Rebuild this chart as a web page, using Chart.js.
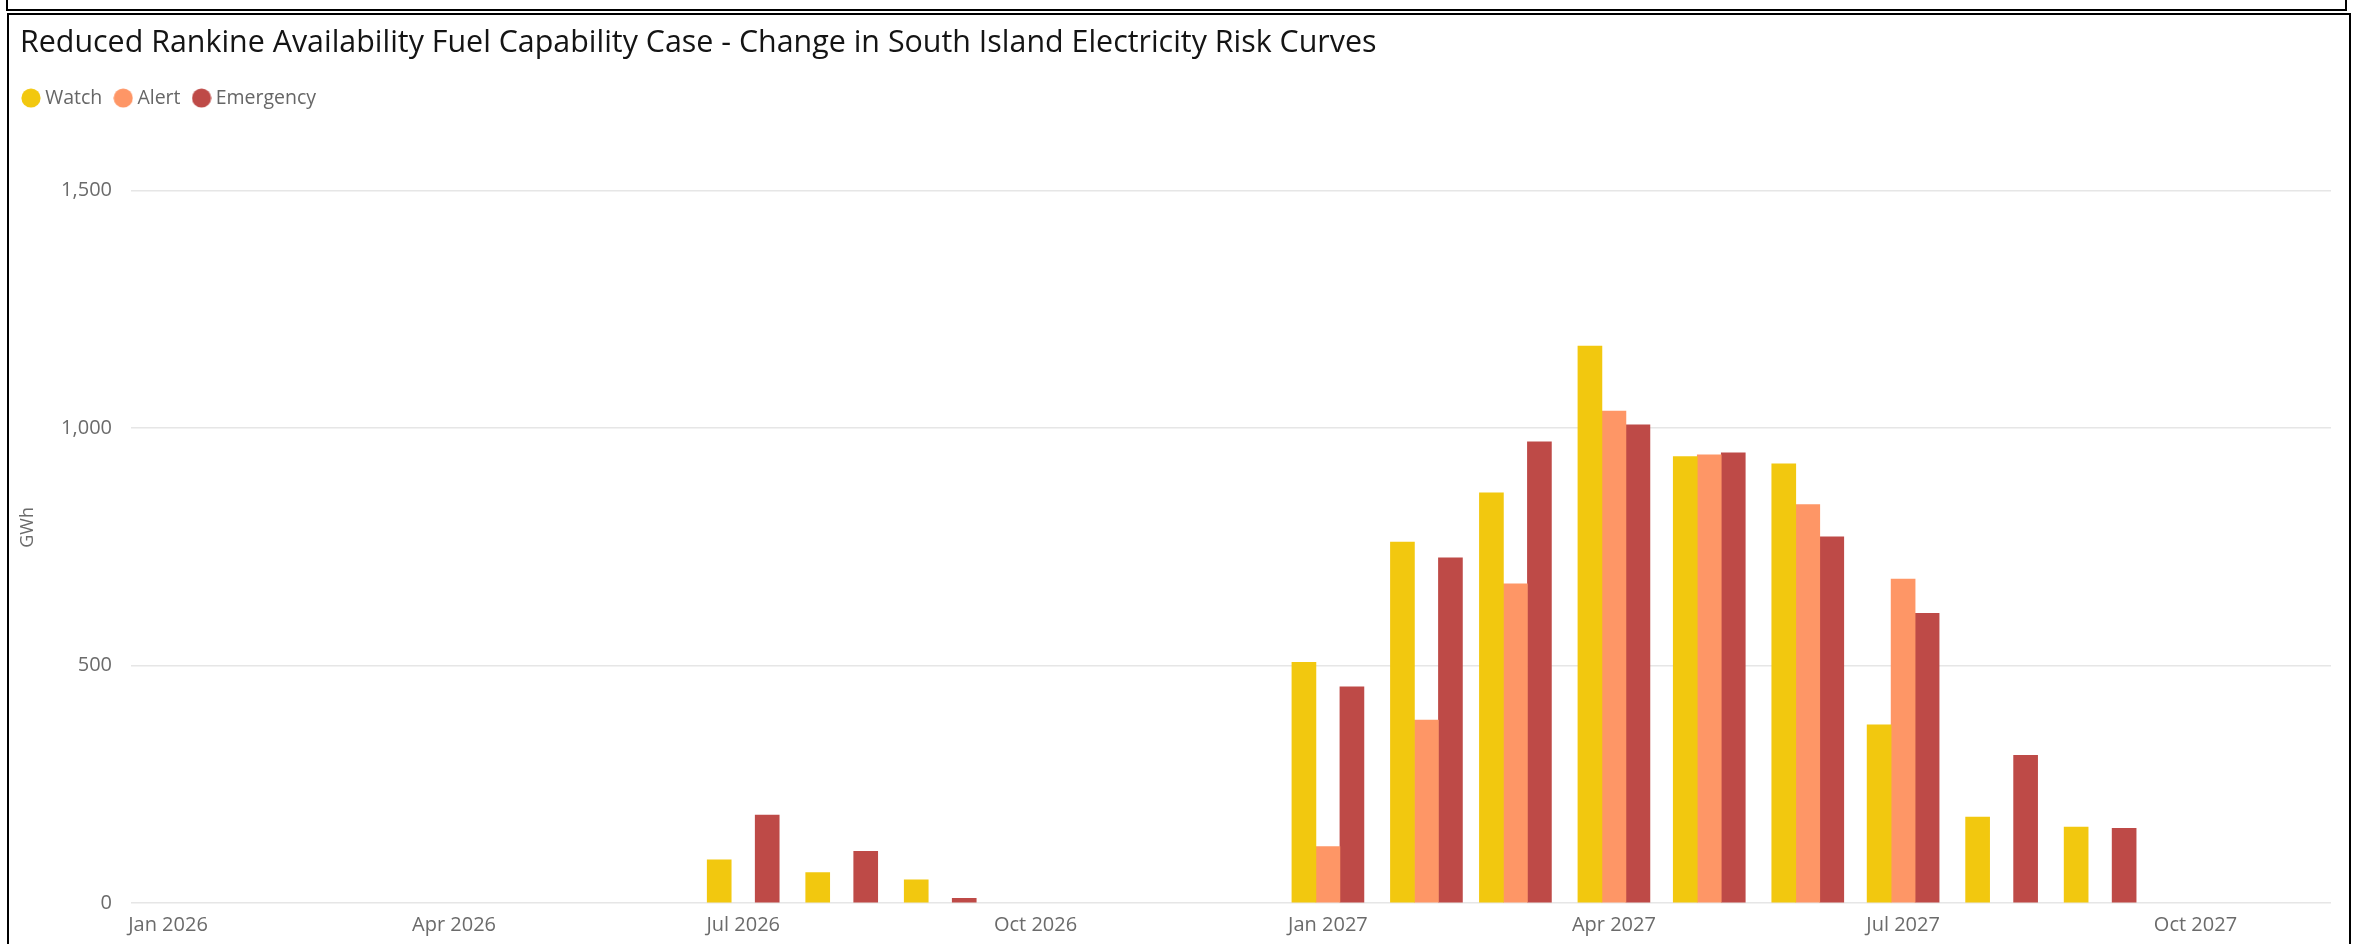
<!DOCTYPE html>
<html>
<head>
<meta charset="utf-8">
<title>South Island Electricity Risk Curves</title>
<script src="https://cdn.jsdelivr.net/npm/chart.js@4.4.1/dist/chart.umd.min.js"></script>
<style>
  html, body { margin: 0; padding: 0; background: #ffffff; overflow: hidden; }
  #wrap { position: relative; width: 2354px; height: 944px; overflow: hidden; }
  #riskChart { position: absolute; left: 0; top: 0; }
  .frame { position: absolute; box-sizing: border-box; border: 2px solid #000; pointer-events: none; }
  #prevPanel { left: 6px; top: -12px; width: 2341px; height: 23px; }
  #panel { left: 7px; top: 13px; width: 2344px; height: 980px; }
</style>
</head>
<body>
<div id="wrap">
  <canvas id="riskChart" width="2354" height="944"></canvas>
  <div class="frame" id="prevPanel"></div>
  <div class="frame" id="panel"></div>
</div>
<script>
// Monthly change in risk-curve energy (GWh), Jan 2026 – Nov 2027
const months = [
  '2026-01', '2026-02', '2026-03', '2026-04', '2026-05', '2026-06',
  '2026-07', '2026-08', '2026-09', '2026-10', '2026-11', '2026-12',
  '2027-01', '2027-02', '2027-03', '2027-04', '2027-05', '2027-06',
  '2027-07', '2027-08', '2027-09', '2027-10', '2027-11'
];
const watch = [
  null, null, null, null, null, null, 91, 64, 49, null, null, null,
  507, 760, 864, 1173, 940, 925, 375, 181, 160, null, null
];
const alertLevel = [
  null, null, null, null, null, null, null, null, null, null, null, null,
  119, 385, 672, 1036, 944, 839, 682, null, null, null, null
];
const emergency = [
  null, null, null, null, null, null, 185, 109, 10, null, null, null,
  455, 727, 971, 1007, 948, 771, 610, 311, 157, null, null
];
const seriesNames = ['Watch', 'Alert', 'Emergency'];
const seriesColors = ['#F2C80F', '#FE9666', '#BE4A47'];
const tickMonths = ['2026-01', '2026-04', '2026-07', '2026-10', '2027-01', '2027-04', '2027-07', '2027-10'];
const tickLabels = ['Jan 2026', 'Apr 2026', 'Jul 2026', 'Oct 2026', 'Jan 2027', 'Apr 2027', 'Jul 2027', 'Oct 2027'];
const yTicks = [0, 500, 1000, 1500];

// Month string -> day number, so the x axis is a true time line
const dayOf = (m) => {
  const [yr, mo] = m.split('-').map(Number);
  return Date.UTC(yr, mo - 1, 1) / 86400000;
};

const FONT = "'Open Sans', 'Noto Sans', sans-serif";
const edgeDays = 11.65;   // half a bar group of space at each end of the time axis

// Round legend markers
function makeDot(color) {
  const c = document.createElement('canvas');
  c.width = 20; c.height = 20;
  const g = c.getContext('2d');
  g.fillStyle = color;
  g.beginPath();
  g.arc(10, 10, 9.6, 0, Math.PI * 2);
  g.fill();
  return c;
}

const seriesValues = [watch, alertLevel, emergency];
const datasets = seriesNames.map((name, s) => ({
  label: name,
  data: months.map((m, i) => ({ x: dayOf(m), y: seriesValues[s][i] })),
  backgroundColor: seriesColors[s],
  borderWidth: 0,
  barThickness: 24
}));

// Nudge the title block inward to sit with the panel's text margin
const titleInset = {
  id: 'titleInset',
  afterLayout(chart) {
    if (chart.titleBlock) chart.titleBlock.left += 10;
  }
};

// Empty layout box that leaves breathing room between the legend and the plot
const legendGap = {
  id: 'legendGap',
  beforeInit(chart) {
    const gap = {
      position: 'top',
      weight: 500,
      fullSize: true,
      options: {},
      left: 0, top: 0, right: 0, bottom: 0, width: 0, height: 0,
      isHorizontal() { return true; },
      update(maxWidth) { this.width = maxWidth; this.height = 34; },
      draw() {}
    };
    Chart.layouts.addBox(chart, gap);
  }
};

new Chart(document.getElementById('riskChart'), {
  type: 'bar',
  data: { datasets },
  plugins: [titleInset, legendGap],
  options: {
    responsive: false,
    animation: false,
    devicePixelRatio: 1,
    layout: { padding: { left: 10, right: 23, top: 0, bottom: 0 } },
    plugins: {
      title: {
        display: true,
        text: 'Reduced Rankine Availability Fuel Capability Case - Change in South Island Electricity Risk Curves',
        align: 'start',
        color: '#141414',
        font: { family: FONT, size: 30.4, weight: 'normal', lineHeight: 1.2 },
        padding: { top: 25.5, bottom: 9.7 }
      },
      legend: {
        display: true,
        position: 'top',
        align: 'start',
        labels: {
          usePointStyle: true,
          pointStyleWidth: 8.8,
          padding: 16.6,
          color: '#666666',
          font: { family: FONT, size: 19.5 },
          generateLabels(chart) {
            const items = Chart.defaults.plugins.legend.labels.generateLabels(chart);
            items.forEach((it) => {
              it.pointStyle = makeDot(seriesColors[it.datasetIndex]);
              it.lineWidth = 0;
            });
            return items;
          }
        }
      },
      tooltip: { enabled: false }
    },
    scales: {
      x: {
        type: 'linear',
        offset: false,
        min: dayOf(months[0]) - edgeDays,
        max: dayOf(months[months.length - 1]) + edgeDays,
        grid: { display: false, drawTicks: false },
        border: { display: false },
        afterBuildTicks(scale) {
          scale.ticks = tickMonths.map((m) => ({ value: dayOf(m) }));
        },
        ticks: {
          autoSkip: false,
          maxRotation: 0,
          minRotation: 0,
          padding: 10,
          color: '#6b6b6b',
          font: { family: FONT, size: 20 },
          callback(value) {
            const i = tickMonths.findIndex((m) => dayOf(m) === value);
            return i >= 0 ? tickLabels[i] : '';
          }
        },
        afterFit(scale) { scale.height = 41; }
      },
      y: {
        min: 0,
        max: 1582,
        grid: { color: '#E6E6E6', lineWidth: 1.5, drawTicks: false },
        border: { display: false },
        afterBuildTicks(scale) {
          scale.ticks = yTicks.map((v) => ({ value: v }));
        },
        ticks: {
          padding: 19,
          color: '#6b6b6b',
          font: { family: FONT, size: 20 },
          callback: (v) => v.toLocaleString('en-US')
        },
        title: {
          display: true,
          text: 'GWh',
          color: '#6b6b6b',
          font: { family: FONT, size: 18, lineHeight: 1.2 },
          padding: { top: 7, bottom: 0 }
        },
        afterFit(scale) { scale.width = 121; }
      }
    }
  }
});
</script>
</body>
</html>
